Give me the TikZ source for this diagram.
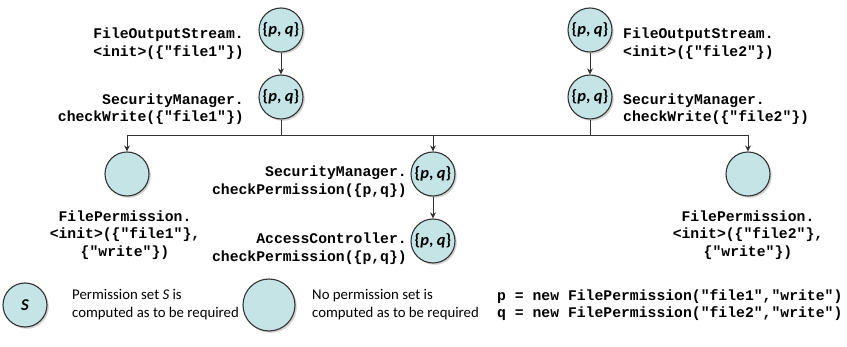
\documentclass[tikz,border=0pt]{standalone}
\usepackage{fontspec}
\setmainfont{Carlito}
\newfontfamily\codefont{Liberation Mono}
\usetikzlibrary{shadows,arrows.meta}
\definecolor{nodefill}{HTML}{C4E4E6}
\definecolor{edgegray}{HTML}{333333}
\tikzset{
  permnode/.style={circle, draw=edgegray, line width=1.1pt, fill=nodefill,
    minimum size=44pt, inner sep=0pt,
    drop shadow={shadow xshift=1.8pt, shadow yshift=-1.8pt, opacity=0.35},
    font=\fontsize{16.5}{18}\selectfont\bfseries},
  codelabel/.style={inner sep=0pt, font=\codefont\bfseries\fontsize{14.75}{17.5}\selectfont},
  legendtext/.style={inner sep=0pt, align=left, anchor=west, font=\fontsize{14.8}{18}\selectfont},
  flow/.style={draw=edgegray, line width=0.9pt, -{Stealth[length=6pt,width=6pt]}},
  plain/.style={draw=edgegray, line width=0.9pt}
}
\newcommand{\pq}{\{\textit{p}, \textit{q}\}}
\begin{document}
\begin{tikzpicture}[x=1pt,y=-1pt]
\useasboundingbox (0,0) rectangle (847,347);

% call nodes
\node[permnode] (fos1) at (281,30) {\pq};
\node[permnode] (scw1) at (281,97) {\pq};
\node[permnode] (fos2) at (590,30) {\pq};
\node[permnode] (scw2) at (590,97) {\pq};
\node[permnode] (fp1)  at (127,174) {};
\node[permnode] (scp)  at (433,174) {\pq};
\node[permnode] (acp)  at (433,241) {\pq};
\node[permnode] (fp2)  at (748,174) {};

% method labels
\node[codelabel, align=right, anchor=east] (lfos1) at (244,43.5) {FileOutputStream.\\<init>(\{"file1"\})};
\node[codelabel, align=right, anchor=east] (lscw1) at (244,109) {SecurityManager.\\checkWrite(\{"file1"\})};
\node[codelabel, align=left, anchor=west] (lfos2) at (623,43.5) {FileOutputStream.\\<init>(\{"file2"\})};
\node[codelabel, align=left, anchor=west] (lscw2) at (623,109) {SecurityManager.\\checkWrite(\{"file2"\})};
\node[codelabel, align=right, anchor=east] (lscp) at (407,181.5) {SecurityManager.\\checkPermission(\{p,q\})};
\node[codelabel, align=right, anchor=east] (lacp) at (407,248.5) {AccessController.\\checkPermission(\{p,q\})};
\node[codelabel, align=center] (lfp1) at (125,235) {FilePermission.\\<init>(\{"file1"\},\\\{"write"\})};
\node[codelabel, align=center] (lfp2) at (748,235) {FilePermission.\\<init>(\{"file2"\},\\\{"write"\})};

% call edges
\coordinate (busL) at (127,135);
\coordinate (busR) at (748,135);
\coordinate (bus1) at (281,135);
\coordinate (bus2) at (590,135);
\coordinate (busM) at (433,135);
\draw[flow] (fos1) -- (scw1);
\draw[flow] (fos2) -- (scw2);
\draw[plain] (scw1) -- (bus1);
\draw[plain] (scw2) -- (bus2);
\draw[plain] (busL) -- (busR);
\draw[flow] (busL) -- (fp1);
\draw[flow] (busM) -- (scp);
\draw[flow] (busR) -- (fp2);
\draw[flow] (scp) -- (acp);

% legend
\node[permnode] (legS) at (25,305) {\textit{S}};
\node[legendtext] (legStxt) at (72,305) {Permission set \textit{S} is\\computed as to be required};
\node[permnode, minimum size=52pt] (legE) at (269,305) {};
\node[legendtext] (legEtxt) at (312,305) {No permission set is\\computed as to be required};
\node[codelabel, align=left, anchor=west] (defs) at (497,305) {p = new FilePermission("file1","write")\\q = new FilePermission("file2","write")};
\end{tikzpicture}
\end{document}
